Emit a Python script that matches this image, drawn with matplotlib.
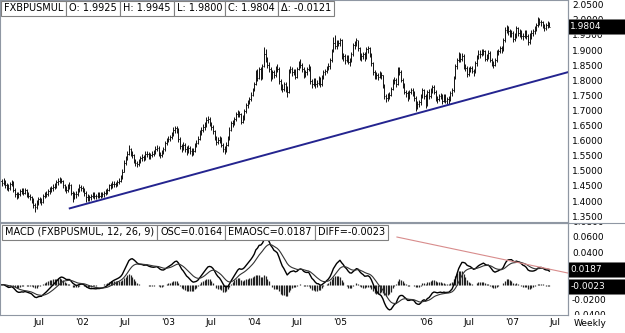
import numpy as np
import pandas as pd
import matplotlib
matplotlib.use("Agg")
import matplotlib.pyplot as plt
import matplotlib.dates as mdates
from matplotlib.patches import Rectangle
from matplotlib.lines import Line2D

# Weekly GBP/USD bars (FXBPUSMUL), first bar = week ending Fri 19 Jan 2001
first_week = "2001-01-19"
first_open = 1.475

closes = [
    # 2001
    1.468, 1.462, 1.470, 1.455, 1.448, 1.445, 1.460, 1.465, 1.440, 1.425, 1.418, 1.425, 1.435,
    1.440, 1.430, 1.440, 1.425, 1.420, 1.415, 1.410, 1.390, 1.385, 1.395, 1.410, 1.405, 1.400,
    1.420, 1.425, 1.425, 1.435, 1.440, 1.445, 1.450, 1.455, 1.465, 1.470, 1.475, 1.470, 1.455,
    1.445, 1.440, 1.455, 1.455, 1.430, 1.420, 1.425, 1.425, 1.440, 1.450, 1.445,
    # 2002
    1.440, 1.430, 1.415, 1.415, 1.415, 1.420, 1.425, 1.420, 1.420, 1.425, 1.420, 1.425, 1.425,
    1.430, 1.435, 1.440, 1.455, 1.455, 1.460, 1.460, 1.460, 1.465, 1.470, 1.480, 1.500, 1.530,
    1.545, 1.560, 1.575, 1.560, 1.555, 1.535, 1.530, 1.525, 1.535, 1.545, 1.550, 1.545, 1.560,
    1.560, 1.550, 1.555, 1.560, 1.565, 1.575, 1.580, 1.560, 1.555, 1.565, 1.575, 1.595, 1.605,
    # 2003
    1.610, 1.615, 1.625, 1.640, 1.645, 1.640, 1.610, 1.585, 1.580, 1.590, 1.575, 1.570, 1.580,
    1.570, 1.565, 1.570, 1.590, 1.595, 1.610, 1.630, 1.640, 1.650, 1.655, 1.670, 1.675, 1.660,
    1.650, 1.635, 1.615, 1.600, 1.605, 1.610, 1.590, 1.575, 1.570, 1.590, 1.610, 1.640, 1.660,
    1.665, 1.675, 1.690, 1.695, 1.690, 1.665, 1.680, 1.700, 1.720, 1.730, 1.740, 1.755, 1.770,
    # 2004
    1.790, 1.830, 1.810, 1.840, 1.815, 1.850, 1.890, 1.870, 1.855, 1.840, 1.810, 1.830, 1.820,
    1.845, 1.840, 1.800, 1.780, 1.775, 1.790, 1.775, 1.765, 1.835, 1.840, 1.830, 1.835, 1.815,
    1.840, 1.860, 1.855, 1.840, 1.820, 1.830, 1.840, 1.850, 1.800, 1.790, 1.805, 1.790, 1.795,
    1.810, 1.790, 1.815, 1.830, 1.835, 1.845, 1.850, 1.870, 1.900, 1.925, 1.915, 1.930, 1.925,
    1.935,
    # 2005
    1.880, 1.885, 1.870, 1.880, 1.865, 1.870, 1.890, 1.920, 1.925, 1.935, 1.910, 1.880, 1.885,
    1.890, 1.880, 1.905, 1.910, 1.890, 1.860, 1.830, 1.820, 1.820, 1.815, 1.825, 1.820, 1.785,
    1.750, 1.745, 1.750, 1.755, 1.775, 1.800, 1.805, 1.790, 1.840, 1.830, 1.805, 1.790, 1.765,
    1.760, 1.745, 1.765, 1.770, 1.760, 1.745, 1.715, 1.725, 1.730, 1.750, 1.770, 1.750, 1.720,
    # 2006
    1.765, 1.750, 1.770, 1.780, 1.765, 1.745, 1.740, 1.750, 1.750, 1.735, 1.750, 1.735, 1.740,
    1.740, 1.760, 1.770, 1.810, 1.850, 1.870, 1.885, 1.875, 1.885, 1.850, 1.845, 1.825, 1.840,
    1.845, 1.835, 1.830, 1.860, 1.880, 1.890, 1.890, 1.895, 1.900, 1.875, 1.880, 1.895, 1.870,
    1.860, 1.855, 1.870, 1.895, 1.900, 1.910, 1.905, 1.935, 1.970, 1.975, 1.965, 1.955, 1.960,
    # 2007
    1.940, 1.950, 1.975, 1.960, 1.965, 1.950, 1.950, 1.960, 1.950, 1.930, 1.950, 1.960, 1.965,
    1.975, 1.985, 2.005, 1.995, 1.995, 1.985, 1.975, 1.985, 1.9925, 1.9804,
]

highs = [
    # 2001
    1.482, 1.475, 1.478, 1.474, 1.462, 1.458, 1.466, 1.472, 1.468, 1.445, 1.432, 1.432, 1.442,
    1.448, 1.445, 1.446, 1.444, 1.432, 1.428, 1.420, 1.414, 1.398, 1.405, 1.416, 1.418, 1.412,
    1.428, 1.432, 1.436, 1.442, 1.450, 1.452, 1.458, 1.462, 1.474, 1.478, 1.482, 1.480, 1.474,
    1.460, 1.452, 1.460, 1.465, 1.458, 1.436, 1.432, 1.436, 1.448, 1.458, 1.456,
    # 2002
    1.452, 1.446, 1.436, 1.426, 1.422, 1.428, 1.432, 1.432, 1.428, 1.432, 1.434, 1.432, 1.434,
    1.438, 1.442, 1.448, 1.460, 1.464, 1.468, 1.470, 1.466, 1.472, 1.478, 1.488, 1.508, 1.538,
    1.552, 1.568, 1.588, 1.580, 1.568, 1.560, 1.542, 1.536, 1.542, 1.552, 1.558, 1.556, 1.568,
    1.570, 1.564, 1.562, 1.568, 1.572, 1.584, 1.588, 1.584, 1.566, 1.572, 1.582, 1.602, 1.612,
    # 2003
    1.618, 1.622, 1.632, 1.650, 1.652, 1.652, 1.645, 1.615, 1.592, 1.598, 1.594, 1.584, 1.588,
    1.586, 1.578, 1.578, 1.596, 1.604, 1.618, 1.638, 1.648, 1.658, 1.666, 1.680, 1.684, 1.680,
    1.666, 1.656, 1.640, 1.620, 1.614, 1.618, 1.616, 1.596, 1.584, 1.598, 1.618, 1.648, 1.668,
    1.672, 1.682, 1.698, 1.704, 1.702, 1.696, 1.688, 1.708, 1.728, 1.738, 1.748, 1.764, 1.778,
    # 2004
    1.798, 1.838, 1.840, 1.848, 1.846, 1.858, 1.912, 1.905, 1.880, 1.865, 1.848, 1.838, 1.836,
    1.852, 1.856, 1.846, 1.806, 1.790, 1.798, 1.796, 1.784, 1.842, 1.850, 1.846, 1.842, 1.840,
    1.848, 1.868, 1.872, 1.860, 1.846, 1.838, 1.848, 1.858, 1.852, 1.806, 1.812, 1.810, 1.804,
    1.818, 1.814, 1.822, 1.838, 1.842, 1.852, 1.860, 1.878, 1.908, 1.948, 1.952, 1.938, 1.936,
    1.942,
    # 2005
    1.940, 1.892, 1.890, 1.888, 1.886, 1.878, 1.898, 1.926, 1.934, 1.942, 1.938, 1.914, 1.894,
    1.898, 1.896, 1.912, 1.918, 1.914, 1.894, 1.864, 1.836, 1.830, 1.828, 1.834, 1.832, 1.822,
    1.790, 1.758, 1.760, 1.764, 1.782, 1.808, 1.814, 1.810, 1.846, 1.848, 1.836, 1.810, 1.794,
    1.772, 1.768, 1.772, 1.778, 1.778, 1.766, 1.750, 1.734, 1.738, 1.758, 1.778, 1.774, 1.756,
    # 2006
    1.772, 1.774, 1.778, 1.788, 1.786, 1.772, 1.752, 1.758, 1.760, 1.756, 1.758, 1.756, 1.748,
    1.750, 1.766, 1.778, 1.816, 1.858, 1.878, 1.896, 1.892, 1.894, 1.890, 1.858, 1.850, 1.848,
    1.852, 1.852, 1.842, 1.868, 1.888, 1.904, 1.902, 1.906, 1.908, 1.904, 1.890, 1.902, 1.900,
    1.876, 1.868, 1.878, 1.902, 1.908, 1.918, 1.918, 1.942, 1.978, 1.986, 1.982, 1.972, 1.968,
    # 2007
    1.966, 1.958, 1.984, 1.980, 1.974, 1.970, 1.960, 1.968, 1.968, 1.956, 1.958, 1.968, 1.972,
    1.982, 1.992, 2.012, 2.010, 2.004, 2.000, 1.990, 1.992, 1.998, 1.9945,
]

lows = [
    # 2001
    1.460, 1.452, 1.455, 1.448, 1.440, 1.436, 1.440, 1.452, 1.432, 1.418, 1.410, 1.412, 1.420,
    1.428, 1.424, 1.425, 1.418, 1.412, 1.405, 1.398, 1.380, 1.368, 1.378, 1.390, 1.396, 1.390,
    1.396, 1.414, 1.416, 1.420, 1.428, 1.432, 1.438, 1.442, 1.448, 1.455, 1.462, 1.462, 1.448,
    1.436, 1.430, 1.434, 1.444, 1.422, 1.400, 1.410, 1.414, 1.420, 1.434, 1.436,
    # 2002
    1.432, 1.420, 1.400, 1.402, 1.404, 1.408, 1.412, 1.410, 1.410, 1.412, 1.412, 1.414, 1.416,
    1.418, 1.424, 1.428, 1.436, 1.444, 1.448, 1.450, 1.450, 1.452, 1.458, 1.466, 1.476, 1.498,
    1.524, 1.538, 1.556, 1.552, 1.545, 1.528, 1.520, 1.515, 1.520, 1.530, 1.536, 1.536, 1.540,
    1.550, 1.542, 1.544, 1.548, 1.552, 1.560, 1.568, 1.552, 1.545, 1.550, 1.560, 1.570, 1.590,
    # 2003
    1.598, 1.602, 1.610, 1.620, 1.630, 1.628, 1.600, 1.575, 1.565, 1.572, 1.565, 1.555, 1.562,
    1.560, 1.552, 1.556, 1.564, 1.582, 1.592, 1.606, 1.622, 1.632, 1.640, 1.650, 1.660, 1.652,
    1.640, 1.626, 1.605, 1.590, 1.592, 1.596, 1.582, 1.566, 1.560, 1.564, 1.584, 1.604, 1.634,
    1.650, 1.656, 1.668, 1.682, 1.680, 1.658, 1.660, 1.672, 1.694, 1.712, 1.724, 1.736, 1.750,
    # 2004
    1.768, 1.786, 1.802, 1.808, 1.804, 1.808, 1.846, 1.862, 1.845, 1.832, 1.800, 1.806, 1.810,
    1.815, 1.830, 1.792, 1.770, 1.764, 1.768, 1.764, 1.748, 1.760, 1.826, 1.818, 1.822, 1.806,
    1.810, 1.836, 1.844, 1.830, 1.810, 1.814, 1.822, 1.834, 1.792, 1.778, 1.784, 1.778, 1.780,
    1.788, 1.780, 1.784, 1.808, 1.822, 1.826, 1.836, 1.842, 1.864, 1.896, 1.905, 1.908, 1.915,
    1.918,
    # 2005
    1.872, 1.866, 1.858, 1.862, 1.856, 1.852, 1.864, 1.882, 1.906, 1.918, 1.900, 1.870, 1.868,
    1.872, 1.866, 1.874, 1.894, 1.880, 1.850, 1.820, 1.808, 1.806, 1.804, 1.810, 1.808, 1.776,
    1.740, 1.732, 1.736, 1.740, 1.750, 1.772, 1.790, 1.780, 1.786, 1.820, 1.796, 1.778, 1.756,
    1.748, 1.736, 1.740, 1.756, 1.750, 1.734, 1.700, 1.708, 1.716, 1.722, 1.744, 1.742, 1.712,
    # 2006
    1.718, 1.740, 1.746, 1.762, 1.756, 1.736, 1.728, 1.734, 1.740, 1.726, 1.730, 1.728, 1.726,
    1.724, 1.734, 1.752, 1.764, 1.806, 1.842, 1.862, 1.864, 1.868, 1.840, 1.834, 1.814, 1.818,
    1.830, 1.826, 1.818, 1.826, 1.852, 1.874, 1.878, 1.882, 1.886, 1.866, 1.866, 1.874, 1.862,
    1.850, 1.844, 1.850, 1.864, 1.886, 1.894, 1.894, 1.900, 1.930, 1.960, 1.954, 1.946, 1.946,
    # 2007
    1.930, 1.932, 1.944, 1.950, 1.948, 1.940, 1.938, 1.944, 1.940, 1.920, 1.924, 1.940, 1.950,
    1.956, 1.966, 1.980, 1.986, 1.984, 1.976, 1.966, 1.968, 1.976, 1.9800,
]

# axis labels (0.0200 and 0.0000 sit under the value boxes, so they are not listed)
price_ticks = [1.35, 1.40, 1.45, 1.50, 1.55, 1.60, 1.65, 1.70, 1.75, 1.80, 1.85, 1.90, 1.95, 2.00, 2.05]
macd_ticks = [-0.04, -0.02, 0.04, 0.06, 0.08]
x_tick_dates = ["2001-07-01", "2002-01-01", "2002-07-01", "2003-01-01", "2003-07-01", "2004-01-01",
                "2004-07-01", "2005-01-01", "2006-01-01", "2006-07-01", "2007-01-01", "2007-07-01"]
x_tick_labels = ["Jul", "'02", "Jul", "'03", "Jul", "'04", "Jul", "'05", "'06", "Jul", "'07", "Jul"]

# drawn trendlines
trend_dates = ["2001-11-10", "2007-08-26"]
trend_prices = [1.379, 1.830]
macd_trend_dates = ["2005-08-30", "2007-08-26"]
macd_trend_vals = [0.0609, 0.0147]

# header strips and last-value markers
header_items = ["FXBPUSMUL", "O: 1.9925", "H: 1.9945", "L: 1.9800", "C: 1.9804", "\u0394: -0.0121"]
macd_header_items = ["MACD (FXBPUSMUL, 12, 26, 9)", "OSC=0.0164", "EMAOSC=0.0187", "DIFF=-0.0023"]
last_close = 1.9804
last_signal = 0.0187
last_diff = -0.0023

plt.rcParams['font.family'] = ['DejaVu Sans']

W, H = 625, 333
GREY = '#8f97a3'


def px_box(x0, y0, x1, y1):
    return [x0 / W, 1 - y1 / H, (x1 - x0) / W, (y1 - y0) / H]


dates = pd.date_range(first_week, periods=len(closes), freq='W-FRI')
xd = mdates.date2num(dates)
opens = [first_open] + closes[:-1]

# MACD (12, 26, 9) from weekly closes
s = pd.Series(closes)
macd = s.ewm(span=12, adjust=False).mean() - s.ewm(span=26, adjust=False).mean()
signal = macd.ewm(span=9, adjust=False).mean()
hist = macd - signal

fig = plt.figure(figsize=(W / 100, H / 100), dpi=100)
ax1 = fig.add_axes(px_box(0, 0, 568, 222))
ax2 = fig.add_axes(px_box(0, 223, 568, 315), sharex=ax1)
lab1 = fig.add_axes(px_box(568, 0, 625, 222), sharey=ax1)
lab2 = fig.add_axes(px_box(568, 223, 625, 315), sharey=ax2)

# price bars
ax1.vlines(xd, lows, highs, colors='#111111', lw=0.7)
ax1.hlines(closes, xd, xd + 2.5, colors='#111111', lw=0.7)
ax1.hlines(opens, xd - 2.5, xd, colors='#111111', lw=0.7)
ax1.plot(mdates.date2num(pd.to_datetime(trend_dates)), trend_prices, color='#24248f', lw=1.4)
ax1.set_ylim(1.3338, 2.0689)

# MACD panel
ax2.vlines(xd, 0, hist, colors='#222222', lw=0.9)
ax2.plot(xd, macd, color='black', lw=1.0)
ax2.plot(xd, signal, color='#333333', lw=0.8)
ax2.plot(mdates.date2num(pd.to_datetime(macd_trend_dates)), macd_trend_vals, color='#d88c8c', lw=0.8)
ax2.set_ylim(-0.0391, 0.0789)

ax1.set_xlim(mdates.date2num(pd.Timestamp("2001-01-18")), mdates.date2num(pd.Timestamp("2007-08-26")))
ax2.set_xticks(mdates.date2num(pd.to_datetime(x_tick_dates)))
ax2.set_xticklabels(x_tick_labels)
ax2.tick_params(axis='x', length=0, pad=2.5, labelsize=6.5)
ax1.tick_params(axis='x', length=0, labelbottom=False)
for ax in (ax1, ax2):
    ax.set_yticks([])
    for sp in ax.spines.values():
        sp.set_color(GREY)
        sp.set_linewidth(0.8)

# right-hand value columns (labels clipped at the panel edges)
for lab, ticks in ((lab1, price_ticks), (lab2, macd_ticks)):
    lab.set_xlim(0, 1)
    lab.set_axis_off()
    for v in ticks:
        lab.text(0.07, v, '{:.4f}'.format(v), fontsize=6.5, va='center', ha='left', clip_on=True)


def value_box(lab, v, panel_px):
    y0, y1 = lab.get_ylim()
    h = 15 * (y1 - y0) / panel_px
    lab.add_patch(Rectangle((0, v - h / 2), 1, h, facecolor='black', edgecolor='#777777',
                            lw=0.5, zorder=5, clip_on=True))
    lab.text(0.04, v, '{:.4f}'.format(v), color='white', fontsize=6.5, va='center', ha='left',
             zorder=6, clip_on=True)


value_box(lab1, last_close, 222)
value_box(lab2, last_signal, 92)
value_box(lab2, last_diff, 92)

# separators
fig.add_artist(Line2D([0, 1], [1 - 222.5 / H] * 2, color=GREY, lw=0.8))
fig.add_artist(Line2D([568 / W] * 2, [1 - 315 / H, 1], color=GREY, lw=0.8))

fig.text(590 / W, 1 - 323 / H, "Weekly", fontsize=6.5, ha='center', va='center')

# header strips
renderer = fig.canvas.get_renderer()


def header(items, x_px, y_px):
    x = x_px
    for txt in items:
        t = fig.text((x + 3) / W, 1 - y_px / H, txt, fontsize=7, va='center', ha='left', zorder=10)
        w = t.get_window_extent(renderer).width
        fig.add_artist(Rectangle((x / W, 1 - (y_px + 7.5) / H), (w + 6) / W, 15 / H,
                                 transform=fig.transFigure, facecolor='white',
                                 edgecolor='#808080', lw=0.8, zorder=9))
        x += w + 6


header(header_items, 1, 8)
header(macd_header_items, 2, 232)

fig.savefig('out.png', dpi=100)
